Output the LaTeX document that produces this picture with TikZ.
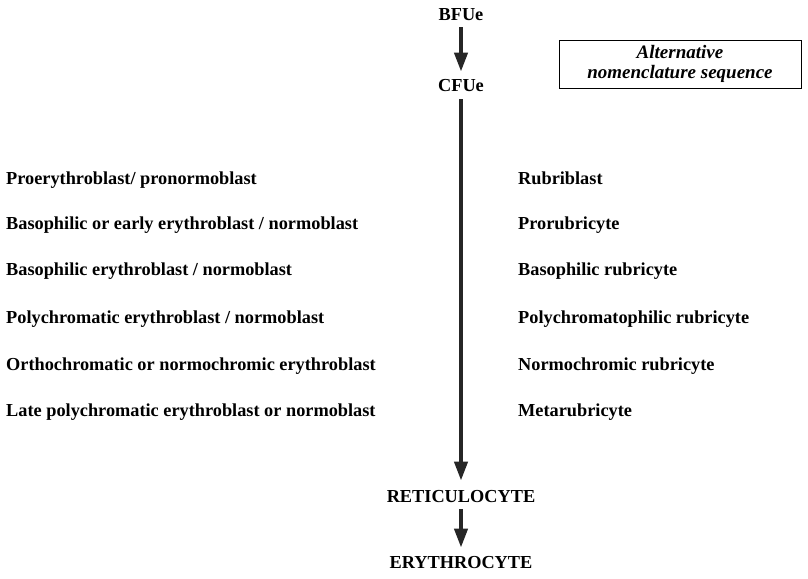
\documentclass[tikz,border=0pt]{standalone}
\usepackage{fontspec}
\setmainfont{Liberation Serif}
\usetikzlibrary{arrows.meta}
\begin{document}
\begin{tikzpicture}[x=1pt,y=-1pt,
  lbl/.style={font=\bfseries\fontsize{18.3}{20}\selectfont, inner sep=0pt},
  stage/.style={lbl, anchor=center},
  leftlbl/.style={lbl, anchor=base west},
  rightlbl/.style={lbl, anchor=base west},
  flow/.style={line width=4pt, -{Triangle[width=13pt,length=19pt]}, black!85}
]
\useasboundingbox (0,0) rectangle (808,578);

% main sequence
\node[stage] (bfu) at (461,15) {BFUe};
\node[stage] (cfu) at (461,86) {CFUe};
\node[stage] (ret) at (461,497) {RETICULOCYTE};
\node[stage] (ery) at (461,563) {ERYTHROCYTE};

\draw[flow] ([yshift=-6pt]bfu.south) -- ([yshift=8pt]cfu.north);
\draw[flow] ([yshift=-7pt]cfu.south) -- ([yshift=10pt]ret.north);
\draw[flow] ([yshift=-6pt]ret.south) -- ([yshift=9pt]ery.north);

% alternative nomenclature box
\node[draw, line width=0.9pt, minimum width=242pt, minimum height=48pt,
      align=center, font=\bfseries\itshape\fontsize{19}{19.5}\selectfont]
      (alt) at (680,64) {Alternative\\nomenclature sequence};

% left column
\node[leftlbl] (l1) at (6,184) {Proerythroblast/ pronormoblast};
\node[leftlbl] (l2) at (6,229) {Basophilic or early erythroblast / normoblast};
\node[leftlbl] (l3) at (6,275) {Basophilic erythroblast / normoblast};
\node[leftlbl] (l4) at (6,323) {Polychromatic erythroblast / normoblast};
\node[leftlbl] (l5) at (6,370) {Orthochromatic or normochromic erythroblast};
\node[leftlbl] (l6) at (6,416) {Late polychromatic erythroblast or normoblast};

% right column
\node[rightlbl] (r1) at (518,184) {Rubriblast};
\node[rightlbl] (r2) at (518,229) {Prorubricyte};
\node[rightlbl] (r3) at (518,275) {Basophilic rubricyte};
\node[rightlbl] (r4) at (518,323) {Polychromatophilic rubricyte};
\node[rightlbl] (r5) at (518,370) {Normochromic rubricyte};
\node[rightlbl] (r6) at (518,416) {Metarubricyte};
\end{tikzpicture}
\end{document}
